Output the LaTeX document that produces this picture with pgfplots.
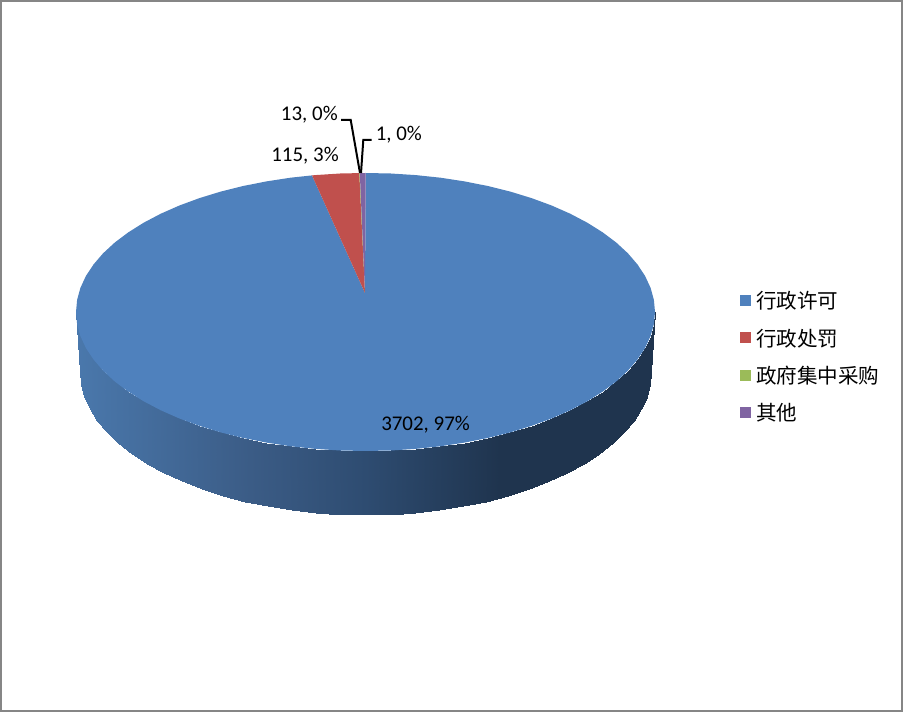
\documentclass[border=0pt]{standalone}
\usepackage{fontspec}
\setmainfont{Carlito}
\newfontfamily\cjk{Noto Sans CJK SC}
\usepackage{pgfplots}
\pgfplotsset{compat=1.18}
\definecolor{pieblue}{RGB}{79,129,189}
\definecolor{piered}{RGB}{192,80,77}
\definecolor{piegreen}{RGB}{155,187,89}
\definecolor{piepurple}{RGB}{128,100,162}
\definecolor{framegray}{RGB}{134,134,134}
\begin{document}
\begin{tikzpicture}
\begin{axis}[
  scale only axis, width=677.25pt, height=534pt,
  xmin=0, xmax=903, ymin=0, ymax=712, y dir=reverse,
  axis line style={draw=none}, xtick=\empty, ytick=\empty, clip=false,
  colormap={side}{rgb255(76pt)=(74,120,172); rgb255(250pt)=(59,92,134); rgb255(365pt)=(46,76,113); rgb255(500pt)=(31,52,78); rgb255(655pt)=(31,52,78)},
  legend style={at={(740/903,1-290/712)}, anchor=north west, draw=none, fill=none, inner sep=0pt,
    font=\fontsize{15.4pt}{18pt}\selectfont\cjk, row sep=10.5pt, column sep=1.75pt,
    cells={anchor=west, inner sep=0pt, text height=12pt, text depth=3pt}},
  legend image code/.code={\fill[#1] (0pt,-3pt) rectangle (8.25pt,5.25pt);},
]
% frame
\addplot[framegray, line width=1.5pt, forget plot] coordinates {(1,1) (902,1) (902,711) (1,711) (1,1)} --cycle;
% side of the pie
\addplot[surf, shader=interp, mesh/cols=37, point meta=x, point meta min=76, point meta max=655, forget plot] coordinates {
(76.0,312.0) (77.1,324.1) (80.4,336.1) (85.9,348.0) (93.5,359.5) (103.1,370.7) (114.8,381.5) (128.4,391.7) (143.7,401.3) (160.8,410.3) (179.4,418.5) (199.5,425.9) (220.7,432.4) (243.2,438.0) (266.5,442.6) (290.6,446.3) (315.2,448.9) (340.3,450.5) (365.5,451.0) (390.7,450.5) (415.8,448.9) (440.4,446.3) (464.5,442.6) (487.8,438.0) (510.3,432.4) (531.5,425.9) (551.6,418.5) (570.2,410.3) (587.3,401.3) (602.6,391.7) (616.2,381.5) (627.9,370.7) (637.5,359.5) (645.1,348.0) (650.6,336.1) (653.9,324.1) (655.0,312.0)
(80.0,372.0) (81.1,384.5) (84.3,396.8) (89.7,409.0) (97.2,420.9) (106.8,432.4) (118.2,443.5) (131.6,454.0) (146.8,463.9) (163.6,473.1) (182.0,481.5) (201.7,489.1) (222.7,495.8) (244.8,501.6) (267.9,506.4) (291.6,510.1) (315.9,512.8) (340.6,514.5) (365.5,515.0) (390.4,514.5) (415.1,512.8) (439.4,510.1) (463.1,506.4) (486.2,501.6) (508.3,495.8) (529.3,489.1) (549.0,481.5) (567.4,473.1) (584.2,463.9) (599.4,454.0) (612.8,443.5) (624.2,432.4) (633.8,420.9) (641.3,409.0) (646.7,396.8) (649.9,384.5) (651.0,372.0)
};
% 3702
\addplot[fill=pieblue, draw=none] coordinates {
(365,293) (365.7,173.0) (390.7,173.5) (415.8,175.1) (440.4,177.7) (464.5,181.4) (487.8,186.0) (510.3,191.6) (531.5,198.1) (551.6,205.5) (570.2,213.7) (587.3,222.7) (602.6,232.3) (616.2,242.5) (627.9,253.3) (637.5,264.5) (645.1,276.0) (650.6,287.9) (653.9,299.9) (655.0,312.0)
(653.9,324.1) (650.6,336.1) (645.1,348.0) (637.5,359.5) (627.9,370.7) (616.2,381.5) (602.6,391.7) (587.3,401.3) (570.2,410.3) (551.6,418.5) (531.5,425.9) (510.3,432.4) (487.8,438.0) (464.5,442.6) (440.4,446.3) (415.8,448.9) (390.7,450.5) (365.5,451.0)
(340.3,450.5) (315.2,448.9) (290.6,446.3) (266.5,442.6) (243.2,438.0) (220.7,432.4) (199.5,425.9) (179.4,418.5) (160.8,410.3) (143.7,401.3) (128.4,391.7) (114.8,381.5) (103.1,370.7) (93.5,359.5) (85.9,348.0) (80.4,336.1) (77.1,324.1) (76.0,312.0)
(77.1,299.9) (80.4,287.9) (85.9,276.0) (93.5,264.5) (103.1,253.3) (114.8,242.5) (128.4,232.3) (143.7,222.7) (160.8,213.7) (179.4,205.5) (199.5,198.1) (220.7,191.6) (243.2,186.0) (266.5,181.4) (290.6,177.7) (312.0,175.4)
} --cycle;
\addlegendentry{行政许可}
% 115
\addplot[fill=piered, draw=none] coordinates {(365,293) (312.0,175.4) (315.2,175.1) (340.3,173.5) (359.3,173.1)} --cycle;
\addlegendentry{行政处罚}
% 13
\addplot[fill=piegreen, draw=none] coordinates {(365,293) (359.3,173.1) (359.8,173.1)} --cycle;
\addlegendentry{政府集中采购}
% 1
\addplot[fill=piepurple, draw=none] coordinates {(365,293) (359.8,173.1) (365.7,173.0)} --cycle;
\addlegendentry{其他}
% leader lines
\addplot[black, line width=1.5pt, forget plot] coordinates {(341,120) (350.7,120) (360,173)};
\addplot[black, line width=1.5pt, forget plot] coordinates {(371.7,140) (363.3,140) (361,173)};
\node[font=\fontsize{15.7pt}{18pt}\selectfont, anchor=east, inner sep=0pt] at (axis cs:338,115) {13, 0\%};
\node[font=\fontsize{15.7pt}{18pt}\selectfont, anchor=west, inner sep=0pt] at (axis cs:375.5,135) {1, 0\%};
\node[font=\fontsize{15.7pt}{18pt}\selectfont, anchor=east, inner sep=0pt] at (axis cs:339,156) {115, 3\%};
\node[font=\fontsize{15.7pt}{18pt}\selectfont, anchor=west, inner sep=0pt] at (axis cs:381,424.5) {3702, 97\%};
\end{axis}
\end{tikzpicture}
\end{document}
